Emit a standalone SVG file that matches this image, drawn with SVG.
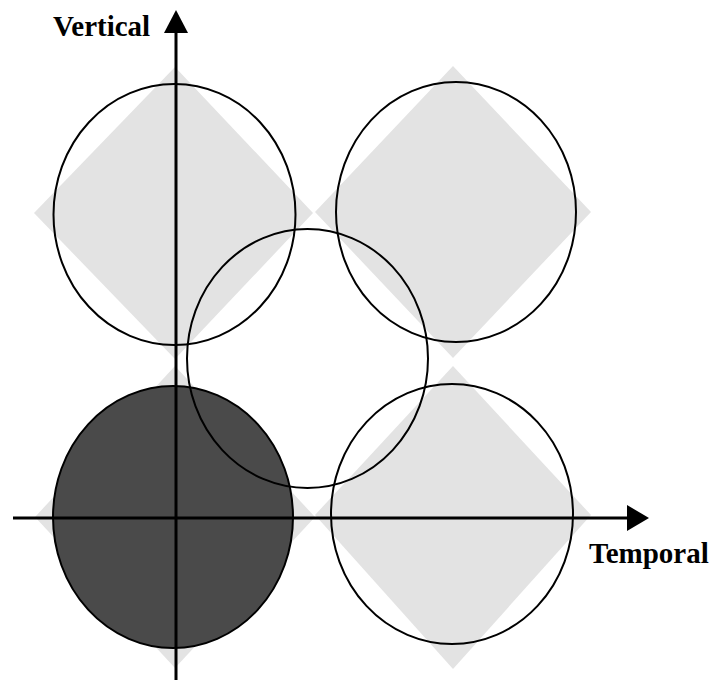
<svg xmlns="http://www.w3.org/2000/svg" width="712" height="681" viewBox="0 0 712 681">
<style>
.dia{fill:#e3e3e3;stroke:none}
.ring{fill:none;stroke:#000;stroke-width:2}
.axis{stroke:#000;stroke-width:3;fill:none}
.lbl{font-family:"Liberation Serif","Times New Roman",serif;font-weight:bold;font-size:29px;fill:#000}
</style>
<rect width="712" height="681" fill="#fff"/>
<g id="diamonds">
<polygon class="dia" points="175,67 313,213 175,359 34,213"/>
<polygon class="dia" points="453,66 591,212 453,358 315,212"/>
<polygon class="dia" points="175,366 315,517 175,668 35,517"/>
<polygon class="dia" points="453,366 591,515 453,669 315,515"/>
</g>
<g id="node-dark"><ellipse cx="173" cy="517" rx="120" ry="131" fill="#4a4a4a" stroke="#000" stroke-width="2"/></g>
<g id="node-tl"><ellipse class="ring" cx="174.5" cy="214.5" rx="121" ry="130.5"/></g>
<g id="node-tr"><ellipse class="ring" cx="456" cy="212" rx="120" ry="130"/></g>
<g id="node-br"><ellipse class="ring" cx="452" cy="514" rx="121" ry="130"/></g>
<g id="node-mid"><ellipse class="ring" cx="307.5" cy="358.5" rx="120.5" ry="129.5"/></g>
<g id="connectors">
<line class="axis" x1="176" y1="680" x2="176" y2="30"/>
<polygon points="176,10 188,33 164,33" fill="#000"/>
<line class="axis" x1="13" y1="518" x2="630" y2="518"/>
<polygon points="649,518 627,505 627,531" fill="#000"/>
</g>
<text class="lbl" x="53" y="36">Vertical</text>
<text class="lbl" x="589" y="563">Temporal</text>
</svg>
